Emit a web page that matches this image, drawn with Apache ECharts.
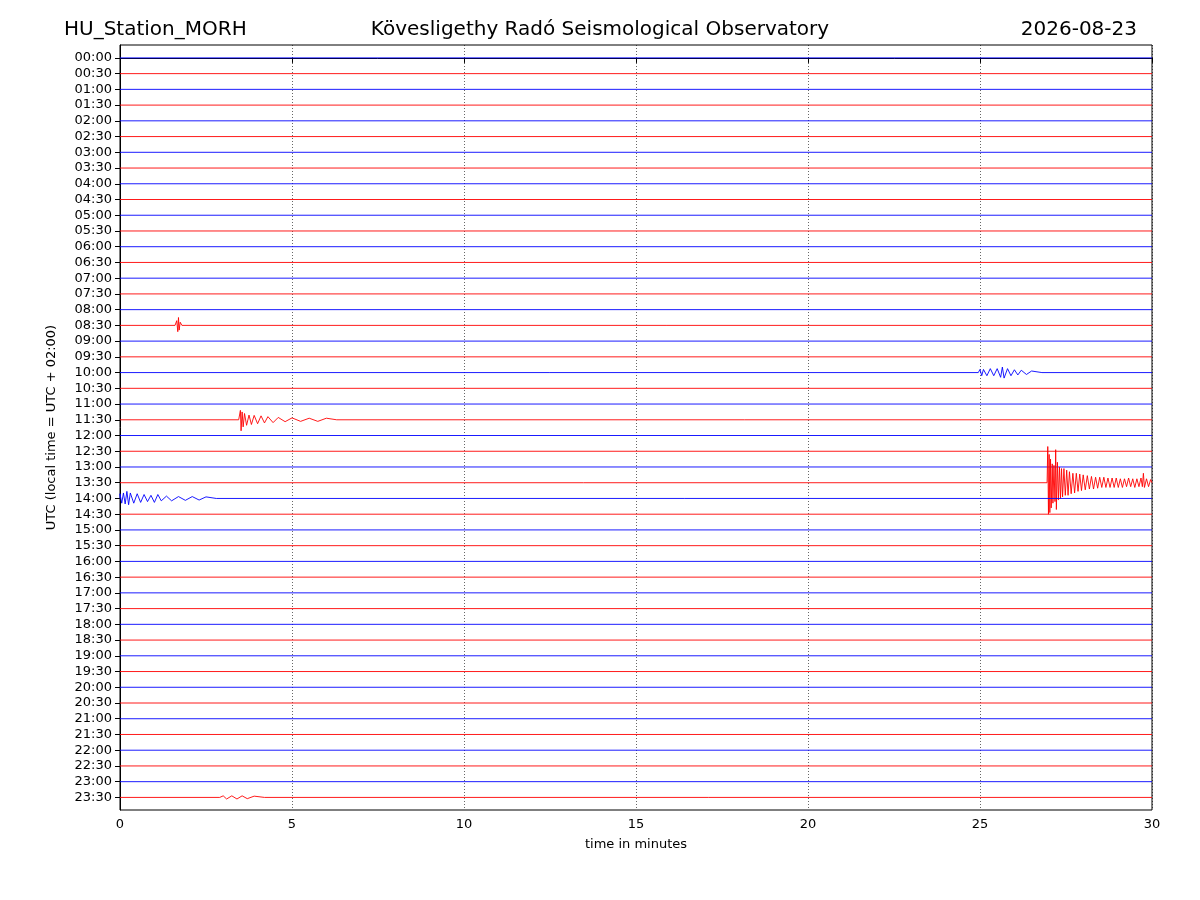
<!DOCTYPE html>
<html><head><meta charset="utf-8">
<script src="https://cdn.jsdelivr.net/npm/echarts@6/dist/echarts.min.js"></script>
<style>body{margin:0}#c{width:1200px;height:900px}</style></head>
<body><div id="c"></div>
<script>
const rowLabels = [];
for (let h = 0; h < 24; h++) { const hh = String(h).padStart(2,'0'); rowLabels.push(hh+':00', hh+':30'); }
const xTicks = [0,5,10,15,20,25,30];
// events: [minute, amplitude (in row units, positive = up)]
const ev0830 = [[1.6,0],[1.65,0.3],[1.68,-0.4],[1.7,0.5],[1.72,-0.3],[1.75,0.2],[1.8,0]];
const ev1000 = [[24.95,0],[25.0,0.2],[25.05,-0.2],[25.1,0.2],[25.2,-0.2],[25.3,0.25],[25.4,-0.2],[25.5,0.25],[25.6,-0.3],[25.65,0.35],[25.7,-0.35],[25.8,0.25],[25.9,-0.2],[26.0,0.18],[26.1,-0.15],[26.2,0.15],[26.35,-0.12],[26.5,0.1],[26.8,0]];
const ev1130 = [[3.45,0],[3.5,0.6],[3.52,-0.7],[3.55,0.5],[3.58,-0.45],[3.62,0.4],[3.68,-0.35],[3.75,0.3],[3.82,-0.3],[3.9,0.28],[4.0,-0.25],[4.1,0.25],[4.2,-0.2],[4.3,0.2],[4.45,-0.18],[4.6,0.15],[4.8,-0.12],[5.0,0.12],[5.25,-0.1],[5.5,0.1],[5.75,-0.1],[6.0,0.1],[6.3,0]];
const ev1330 = [[26.95,0],[26.97,2.3],[26.99,-2.0],[27.01,1.8],[27.03,-1.9],[27.05,1.5],[27.07,-1.6],[27.1,1.2],[27.12,-1.3],[27.15,1.1],[27.18,-1.2],[27.2,2.1],[27.22,-1.7],[27.25,1.3],[27.28,-1.1],[27.31,1.0],[27.34,-1.0],[27.37,0.9],[27.4,-0.9],[27.44,0.9],[27.48,-0.8],[27.52,0.8],[27.56,-0.8],[27.6,0.7],[27.65,-0.7],[27.7,0.6],[27.75,-0.65],[27.8,0.6],[27.85,-0.55],[27.9,0.55],[27.95,-0.5],[28.0,0.5],[28.06,-0.45],[28.12,0.45],[28.18,-0.4],[28.24,0.4],[28.3,-0.4],[28.36,0.35],[28.42,-0.35],[28.48,0.35],[28.54,-0.3],[28.6,0.35],[28.66,-0.3],[28.72,0.3],[28.78,-0.3],[28.84,0.3],[28.9,-0.3],[28.96,0.3],[29.02,-0.3],[29.08,0.25],[29.14,-0.3],[29.2,0.25],[29.26,-0.25],[29.32,0.3],[29.38,-0.25],[29.44,0.25],[29.5,-0.3],[29.56,0.25],[29.62,-0.25],[29.68,0.3],[29.72,-0.25],[29.75,0.6],[29.78,-0.3],[29.84,0.25],[29.9,-0.25],[29.96,0.2],[30,0]];
const ev1400 = [[0,0.3],[0.05,-0.3],[0.1,0.35],[0.15,-0.35],[0.2,0.45],[0.25,-0.4],[0.3,0.35],[0.4,-0.3],[0.5,0.3],[0.6,-0.25],[0.7,0.25],[0.8,-0.2],[0.9,0.2],[1.0,-0.25],[1.1,0.25],[1.2,-0.15],[1.35,0.15],[1.5,-0.15],[1.7,0.12],[1.9,-0.12],[2.1,0.12],[2.3,-0.1],[2.5,0.1],[2.8,0]];
const ev2330 = [[2.9,0],[3.0,0.1],[3.1,-0.1],[3.25,0.1],[3.4,-0.1],[3.55,0.1],[3.7,-0.08],[3.9,0.08],[4.2,0]];
const events = {17: ev0830, 20: ev1000, 23: ev1130, 27: ev1330, 28: ev1400, 47: ev2330};

const series = rowLabels.map((lab, i) => {
  const ev = events[i] || [];
  let pts = [[0,0]].concat(ev, [[30,0]]).sort((a,b)=>a[0]-b[0]);
  return {type:'line', symbol:'none', silent:true, animation:false,
    lineStyle:{width:0.9, color: i%2===0 ? '#0000ff' : '#ff0000'},
    data: pts.map(p => [p[0], i - p[1]])};
});
const chart = echarts.init(document.getElementById('c'));
chart.setOption({
  animation:false,
  title:[
    {text:'HU_Station_MORH', left:59, top:15, textStyle:{fontSize:20, fontWeight:'normal', color:'#000', fontFamily:'DejaVu Sans'}},
    {text:'Kövesligethy Radó Seismological Observatory', left:'center', top:15, textStyle:{fontSize:20, fontWeight:'normal', color:'#000', fontFamily:'DejaVu Sans'}},
    {text:'2026-08-23', right:58, top:15, textStyle:{fontSize:20, fontWeight:'normal', color:'#000', fontFamily:'DejaVu Sans'}}
  ],
  grid:{left:120, right:48, top:45, bottom:90, show:true, borderColor:'#000', borderWidth:1},
  xAxis:{type:'value', min:0, max:30, interval:5, name:'time in minutes', nameLocation:'middle', nameGap:28,
    nameTextStyle:{fontSize:13, color:'#000', fontFamily:'DejaVu Sans'},
    axisLine:{lineStyle:{color:'#000'}}, axisTick:{length:5, lineStyle:{color:'#000'}},
    axisLabel:{fontSize:13, color:'#000', fontFamily:'DejaVu Sans'},
    splitLine:{show:true, lineStyle:{color:'#000', type:[1,2], width:0.6}}},
  yAxis:{type:'value', inverse:true, min:-0.82, max:47.8, name:'UTC (local time = UTC + 02:00)', nameLocation:'middle', nameGap:62,
    nameTextStyle:{fontSize:13, color:'#000', fontFamily:'DejaVu Sans'},
    axisLine:{show:true, lineStyle:{color:'#000'}},
    axisTick:{show:true, length:5, customValues: rowLabels.map((_,i)=>i), lineStyle:{color:'#000'}},
    axisLabel:{fontSize:13, color:'#000', fontFamily:'DejaVu Sans', customValues: rowLabels.map((_,i)=>i),
      formatter: v => rowLabels[Math.round(v)]},
    splitLine:{show:false}},
  series
});
</script></body></html>
